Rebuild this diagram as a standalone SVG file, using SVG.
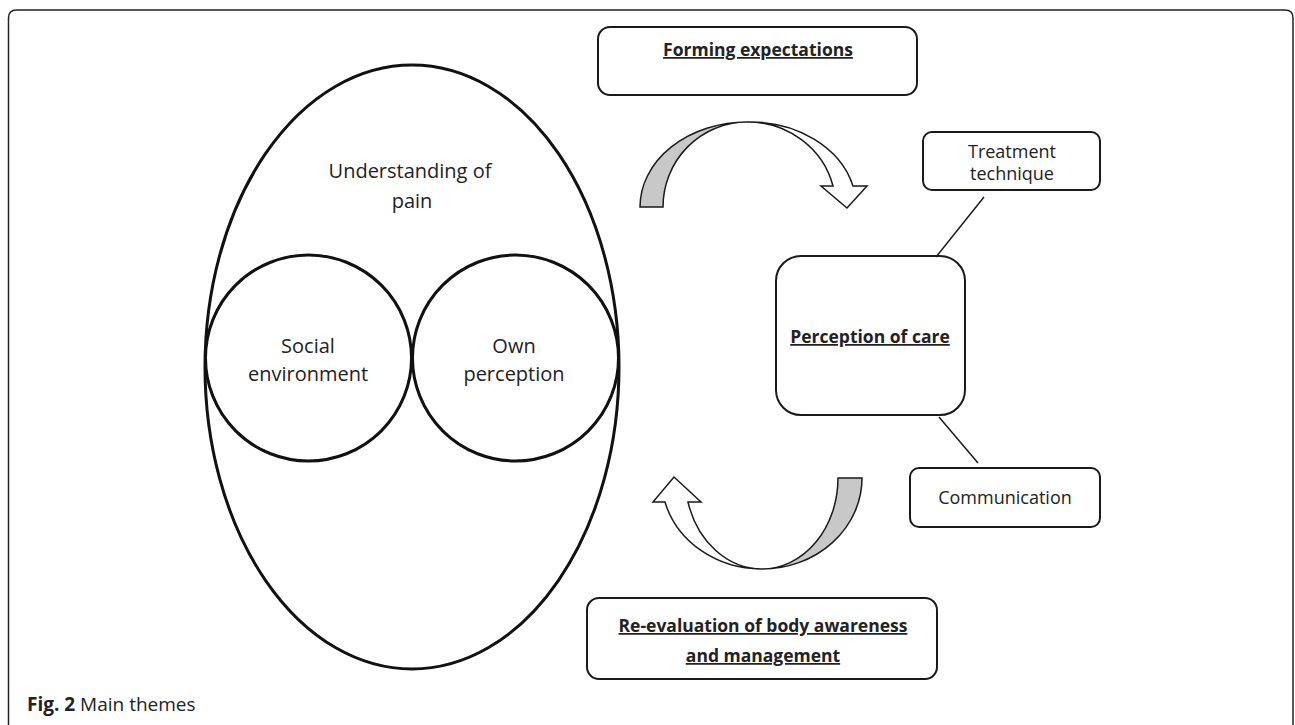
<svg xmlns="http://www.w3.org/2000/svg" width="1295" height="725" viewBox="0 0 1295 725">
<style>
.box{fill:#fff;stroke:#1a1a1a;stroke-width:2}
.shape{fill:none;stroke:#111;stroke-width:3}
.t{font-family:"Open Sans","Liberation Sans",sans-serif;font-size:20px;fill:#222;text-anchor:middle}
.ts{font-family:"Open Sans","Liberation Sans",sans-serif;font-size:18px;fill:#222;text-anchor:middle}
.tb{font-family:"Open Sans","Liberation Sans",sans-serif;font-size:17.5px;font-weight:bold;fill:#222;text-anchor:middle;text-decoration:underline}
.line{stroke:#1a1a1a;stroke-width:1.5;fill:none}
.arr{stroke:#1a1a1a;stroke-width:1.5}
</style>
<rect width="1295" height="725" fill="#fff"/>
<path d="M8.5,725 V18 Q8.5,10 16.5,10 H1285 Q1293,10 1293,18 V725" fill="none" stroke="#222" stroke-width="1.5"/>

<g id="understanding">
<ellipse cx="412" cy="367" rx="207" ry="302" class="shape"/>
<text class="t" x="410" y="178">Understanding of</text>
<text class="t" x="412" y="208">pain</text>
</g>
<g id="social">
<circle cx="308.5" cy="358" r="103" class="shape" stroke-width="2.5"/>
<text class="t" x="308" y="353">Social</text>
<text class="t" x="308" y="381">environment</text>
</g>
<g id="own">
<circle cx="515.5" cy="358" r="103" class="shape" stroke-width="2.5"/>
<text class="t" x="514" y="353">Own</text>
<text class="t" x="514" y="381">perception</text>
</g>

<g id="forming">
<rect x="598" y="27" width="319" height="68" rx="12" class="box"/>
<text class="tb" x="758" y="56">Forming expectations</text>
</g>
<g id="reevaluation">
<rect x="587" y="598" width="350" height="81" rx="12" class="box"/>
<text class="tb" x="763" y="632">Re-evaluation of body awareness</text>
<text class="tb" x="763" y="662">and management</text>
</g>
<g id="perception">
<rect x="776" y="256" width="189" height="159" rx="25" class="box"/>
<text class="tb" x="870" y="343">Perception of care</text>
</g>
<g id="treatment">
<rect x="923" y="132" width="177" height="58" rx="9" class="box"/>
<text class="ts" x="1012" y="158">Treatment</text>
<text class="ts" x="1012" y="180">technique</text>
</g>
<g id="communication">
<rect x="910" y="468" width="190" height="59" rx="9" class="box"/>
<text class="ts" x="1005" y="504">Communication</text>
</g>

<g id="connectors">
<line x1="984" y1="197" x2="936" y2="257" class="line"/>
<line x1="939" y1="417" x2="978" y2="463" class="line"/>
<path class="arr" fill="#c8c8c8" d="M640,207 A107,85 0 0 1 747,122 A84,85 0 0 0 663,207 Z"/>
<path class="arr" fill="#fff" d="M747,122 A106,85 0 0 1 853,186 L867,186 L847,208 L821,186 L833,186 A88,85 0 0 0 747,122 Z"/>
<path class="arr" fill="#c8c8c8" d="M838,478 L862,478 A100,91 0 0 1 762,569 A76,91 0 0 0 838,478 Z"/>
<path class="arr" fill="#fff" d="M762,569 A100,91 0 0 1 665,502 L653,502 L674,477 L701,502 L688,502 A77,91 0 0 0 762,569 Z"/>
</g>

<text x="27" y="711" font-family="Open Sans, Liberation Sans, sans-serif" font-size="19" fill="#222"><tspan font-weight="bold">Fig. 2</tspan> Main themes</text>
</svg>
